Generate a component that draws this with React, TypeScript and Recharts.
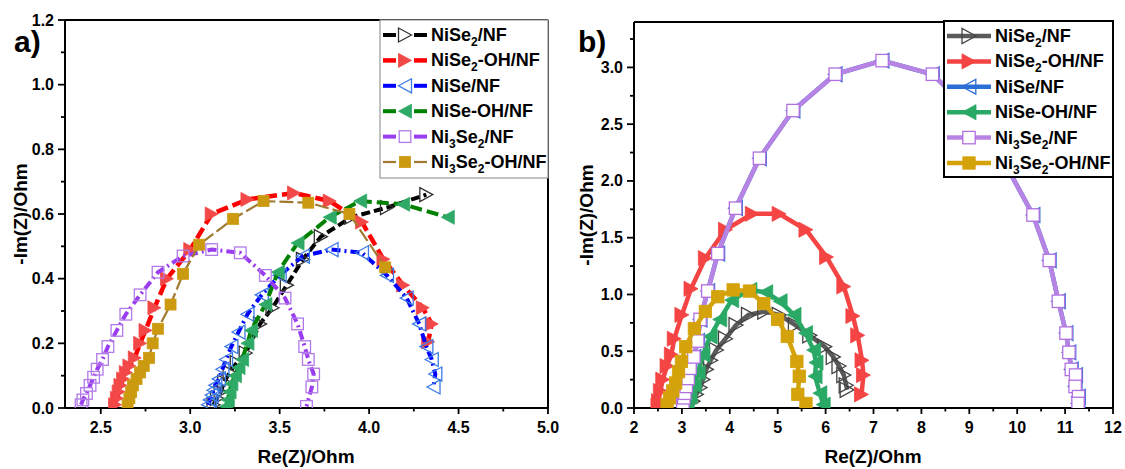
import { ScatterChart, Scatter, XAxis, YAxis, ReferenceLine } from "recharts";

type Pt = [number, number];

// ---- panel a) : Re(Z), -Im(Z) in Ohm ----
const aNiSe2: Pt[] = [
  [3.13, 0.01], [3.15, 0.03], [3.17, 0.05], [3.19, 0.08], [3.22, 0.11], [3.26, 0.14],
  [3.31, 0.17], [3.39, 0.26], [3.46, 0.31], [3.54, 0.38], [3.63, 0.46], [3.73, 0.53],
  [3.9, 0.59], [4.1, 0.62], [4.32, 0.66],
];
const aNiSe2OH: Pt[] = [
  [2.58, 0.01], [2.59, 0.03], [2.6, 0.05], [2.61, 0.07], [2.625, 0.09], [2.64, 0.11],
  [2.66, 0.13], [2.69, 0.155], [2.72, 0.2], [2.75, 0.24], [2.8, 0.31], [2.87, 0.4],
  [3.0, 0.49], [3.12, 0.6], [3.32, 0.645], [3.58, 0.665], [3.78, 0.64], [3.96, 0.575],
  [4.08, 0.46], [4.19, 0.38], [4.3, 0.31], [4.35, 0.26], [4.33, 0.205],
];
const aNiSe: Pt[] = [
  [3.1, 0.01], [3.11, 0.025], [3.12, 0.04], [3.13, 0.055], [3.14, 0.07], [3.16, 0.09],
  [3.18, 0.12], [3.2, 0.15], [3.23, 0.19], [3.27, 0.235], [3.32, 0.29], [3.4, 0.35],
  [3.5, 0.41], [3.63, 0.47], [3.79, 0.49], [3.96, 0.48], [4.1, 0.41], [4.21, 0.34],
  [4.28, 0.26], [4.32, 0.19], [4.35, 0.15], [4.37, 0.105], [4.36, 0.065],
];
const aNiSeOH: Pt[] = [
  [3.2, 0.005], [3.21, 0.025], [3.22, 0.05], [3.23, 0.075], [3.25, 0.1], [3.27, 0.125],
  [3.29, 0.15], [3.32, 0.2], [3.34, 0.24], [3.42, 0.32], [3.49, 0.42], [3.6, 0.51],
  [3.78, 0.59], [3.95, 0.64], [4.19, 0.63], [4.44, 0.59],
];
const aNi3Se2: Pt[] = [
  [2.39, 0.01], [2.4, 0.025], [2.42, 0.045], [2.44, 0.07], [2.46, 0.095], [2.48, 0.12],
  [2.51, 0.15], [2.54, 0.19], [2.59, 0.24], [2.64, 0.29], [2.72, 0.35], [2.82, 0.42],
  [2.96, 0.47], [3.12, 0.49], [3.28, 0.48], [3.42, 0.41], [3.53, 0.34], [3.6, 0.26],
  [3.64, 0.19], [3.66, 0.15], [3.69, 0.105], [3.68, 0.065], [3.65, 0.005],
];
const aNi3Se2OH: Pt[] = [
  [2.65, 0.01], [2.66, 0.03], [2.67, 0.05], [2.68, 0.07], [2.7, 0.09], [2.72, 0.11],
  [2.74, 0.13], [2.77, 0.155], [2.79, 0.2], [2.82, 0.245], [2.89, 0.32], [2.96, 0.415],
  [3.05, 0.505], [3.24, 0.585], [3.41, 0.64], [3.66, 0.635], [3.89, 0.6], [4.09, 0.435],
];

// ---- panel b) ----
const bNiSe2: Pt[] = [
  [3.23, 0.06], [3.3, 0.12], [3.38, 0.18], [3.44, 0.25], [3.51, 0.34], [3.6, 0.42],
  [3.72, 0.51], [3.91, 0.61], [4.13, 0.73], [4.39, 0.82], [4.73, 0.85], [5.03, 0.82],
  [5.37, 0.73], [5.67, 0.64], [5.98, 0.54], [6.16, 0.45], [6.28, 0.37], [6.38, 0.29],
  [6.43, 0.2], [6.45, 0.16],
];
const bNiSe2OH: Pt[] = [
  [2.5, 0.02], [2.51, 0.06], [2.55, 0.15], [2.6, 0.25], [2.69, 0.37], [2.78, 0.47],
  [2.84, 0.61], [3.0, 0.82], [3.19, 1.05], [3.49, 1.32], [3.91, 1.57], [4.47, 1.71],
  [5.03, 1.71], [5.59, 1.57], [6.02, 1.33], [6.38, 1.07], [6.57, 0.81], [6.67, 0.64],
  [6.76, 0.42], [6.79, 0.29], [6.75, 0.12],
];
const bNiSeOH: Pt[] = [
  [3.11, 0.03], [3.17, 0.1], [3.26, 0.2], [3.34, 0.31], [3.44, 0.47], [3.59, 0.63],
  [3.79, 0.78], [4.04, 0.95], [4.42, 1.04], [4.75, 1.02], [5.05, 0.94], [5.34, 0.82],
  [5.58, 0.66], [5.75, 0.51], [5.8, 0.4], [5.78, 0.28], [5.88, 0.13], [5.95, 0.03],
];
const bNi3Se2: Pt[] = [
  [3.02, 0.04], [3.04, 0.09], [3.06, 0.13], [3.09, 0.19], [3.13, 0.26], [3.17, 0.35],
  [3.25, 0.45], [3.33, 0.59], [3.38, 0.78], [3.54, 1.03], [3.75, 1.36], [4.12, 1.76],
  [4.62, 2.2], [5.32, 2.62], [6.2, 2.94], [7.18, 3.06], [8.23, 2.94], [9.3, 2.5],
  [10.33, 1.7], [10.67, 1.3], [10.86, 0.94], [11.02, 0.66], [11.08, 0.49], [11.13, 0.34],
  [11.22, 0.29], [11.21, 0.19], [11.28, 0.1], [11.27, 0.04],
];
// NiSe/NF in b) lies under the Ni3Se2/NF points (only slivers visible)
const bNiSe: Pt[] = bNi3Se2;
const bNi3Se2OH: Pt[] = [
  [2.69, 0.03], [2.74, 0.09], [2.81, 0.15], [2.87, 0.22], [2.93, 0.32], [2.99, 0.41],
  [3.08, 0.54], [3.26, 0.7], [3.49, 0.85], [3.75, 0.98], [4.07, 1.04], [4.41, 1.03],
  [4.71, 0.92], [5.0, 0.78], [5.2, 0.63], [5.4, 0.41], [5.45, 0.28], [5.42, 0.12],
  [5.59, 0.04],
];

const names = ["NiSe2/NF", "NiSe2-OH/NF", "NiSe/NF", "NiSe-OH/NF", "Ni3Se2/NF", "Ni3Se2-OH/NF"];

const aXMajor = [2.5, 3, 3.5, 4, 4.5, 5];
const aXMinor = [2.75, 3.25, 3.75, 4.25, 4.75];
const aYMajor = [0, 0.2, 0.4, 0.6, 0.8, 1.0, 1.2];
const aYMinor = [0.1, 0.3, 0.5, 0.7, 0.9, 1.1];
const bXMajor = [2, 3, 4, 5, 6, 7, 8, 9, 10, 11, 12];
const bXMinor = [2.5, 3.5, 4.5, 5.5, 6.5, 7.5, 8.5, 9.5, 10.5, 11.5];
const bYMajor = [0, 0.5, 1.0, 1.5, 2.0, 2.5, 3.0];
const bYMinor = [0.25, 0.75, 1.25, 1.75, 2.25, 2.75, 3.25];

const FONT = "'Liberation Sans', Arial, sans-serif";

type Kind = "right" | "left" | "square";
interface Sty {
  kind: Kind;
  line: string;
  fill: string;
  stroke: string;
  w: number;
  dash?: string;
  size: number;
}

const aStyles: Sty[] = [
  { kind: "right", line: "#000000", fill: "none", stroke: "#333333", w: 4, dash: "9 4", size: 6.5 },
  { kind: "right", line: "#ff0000", fill: "#f24848", stroke: "#f24848", w: 4.5, dash: "12 5", size: 6.5 },
  { kind: "left", line: "#0000ff", fill: "none", stroke: "#3d7be6", w: 4, dash: "9 4 2 4", size: 6.5 },
  { kind: "left", line: "#008000", fill: "#2eaa66", stroke: "#2eaa66", w: 4, dash: "12 5", size: 6.5 },
  { kind: "square", line: "#9a3cf0", fill: "none", stroke: "#b27ae8", w: 4, dash: "9 4 2 4", size: 5.8 },
  { kind: "square", line: "#a07a30", fill: "#cc9a10", stroke: "#cc9a10", w: 2.2, dash: "14 4", size: 5.5 },
];

const bStyles: Sty[] = [
  { kind: "right", line: "#5a5a5a", fill: "none", stroke: "#444444", w: 4.5, size: 7 },
  { kind: "right", line: "#f44444", fill: "#f44444", stroke: "#f44444", w: 4.5, size: 7 },
  { kind: "left", line: "#2b6fd6", fill: "none", stroke: "#2b6fd6", w: 4.5, size: 6.8 },
  { kind: "left", line: "#2aa866", fill: "#2aa866", stroke: "#2aa866", w: 4.5, size: 7 },
  { kind: "square", line: "#b884e4", fill: "#ffffff", stroke: "#b070e0", w: 4.5, size: 6.2 },
  { kind: "square", line: "#d4a20a", fill: "#d4a20a", stroke: "#d4a20a", w: 4.5, size: 6.2 },
];

const aSeries = [aNiSe2, aNiSe2OH, aNiSe, aNiSeOH, aNi3Se2, aNi3Se2OH];
const bSeries = [bNiSe2, bNiSe2OH, bNiSe, bNiSeOH, bNi3Se2, bNi3Se2OH];

const Mark = ({ cx, cy, s }: { cx?: number; cy?: number; s: Sty }) => {
  if (cx == null || cy == null) return null;
  const a = s.size;
  const sw = s.fill === "none" || s.fill === "#ffffff" ? 1.3 : 0.8;
  if (s.kind === "square") {
    return <rect x={cx - a} y={cy - a} width={2 * a} height={2 * a} fill={s.fill} stroke={s.stroke} strokeWidth={sw} />;
  }
  const d = s.kind === "right" ? 1 : -1;
  const pts = `${cx + d * a},${cy} ${cx - d * a},${cy - a * 1.08} ${cx - d * a},${cy + a * 1.08}`;
  return <polygon points={pts} fill={s.fill} stroke={s.stroke} strokeWidth={sw} strokeLinejoin="miter" />;
};

const tickText = { fontFamily: FONT, fontWeight: 700, fontSize: 16, fill: "#000" };

const XTick = (p: any, majors: number[], fmt: (v: number) => string) => {
  const v = p.payload.value;
  const major = majors.includes(v);
  return (
    <g key={`x${v}`}>
      <line x1={p.x} x2={p.x} y1={p.y} y2={p.y + (major ? 6 : 3.5)} stroke="#000" strokeWidth={1.8} />
      {major && (
        <text x={p.x} y={p.y + 25} textAnchor="middle" {...tickText}>
          {fmt(v)}
        </text>
      )}
    </g>
  );
};

const YTick = (p: any, majors: number[]) => {
  const v = p.payload.value;
  const major = majors.includes(v);
  return (
    <g key={`y${v}`}>
      <line x1={p.x - (major ? 7 : 4)} x2={p.x} y1={p.y} y2={p.y} stroke="#000" strokeWidth={1.8} />
      {major && (
        <text x={p.x - 11} y={p.y + 5.5} textAnchor="end" {...tickText}>
          {v.toFixed(1)}
        </text>
      )}
    </g>
  );
};

interface PanelProps {
  width: number;
  yAxisW: number;
  top: number;
  domX: [number, number];
  domY: [number, number];
  xMajor: number[];
  xMinor: number[];
  yMajor: number[];
  yMinor: number[];
  xFmt: (v: number) => string;
  series: Pt[][];
  styles: Sty[];
}

const Panel = (pp: PanelProps) => (
  <ScatterChart width={pp.width} height={469} margin={{ top: pp.top, right: 12, bottom: 11, left: 0 }}>
    <XAxis
      type="number"
      dataKey="x"
      domain={pp.domX}
      ticks={[...pp.xMajor, ...pp.xMinor]}
      interval={0}
      tickSize={0}
      tickMargin={0}
      tickLine={false}
      tick={(p: any) => XTick(p, pp.xMajor, pp.xFmt)}
      axisLine={{ stroke: "#000", strokeWidth: 2 }}
      height={50}
      allowDataOverflow
    />
    <YAxis
      type="number"
      dataKey="y"
      domain={pp.domY}
      ticks={[...pp.yMajor, ...pp.yMinor]}
      interval={0}
      tickSize={0}
      tickMargin={0}
      tickLine={false}
      tick={(p: any) => YTick(p, pp.yMajor)}
      axisLine={{ stroke: "#000", strokeWidth: 2 }}
      width={pp.yAxisW}
      allowDataOverflow
    />
    <ReferenceLine y={pp.domY[1]} stroke="#000" strokeWidth={2} />
    <ReferenceLine x={pp.domX[1]} stroke="#000" strokeWidth={2} />
    {pp.series.map((pts, i) => {
      const s = pp.styles[i];
      return (
        <Scatter
          key={names[i]}
          name={names[i]}
          data={pts.map(([x, y]) => ({ x, y }))}
          line={{ stroke: s.line, strokeWidth: s.w, strokeDasharray: s.dash }}
          shape={(p: any) => <Mark cx={p.cx} cy={p.cy} s={s} />}
          isAnimationActive={false}
        />
      );
    })}
  </ScatterChart>
);

const NameText = ({ x, y, name }: { x: number; y: number; name: string }) => {
  const parts = name.split(/(\d)/).filter((t) => t !== "");
  let sub = false;
  return (
    <text x={x} y={y} fontFamily={FONT} fontWeight={700} fontSize={18} fill="#000">
      {parts.map((t, i) => {
        const isSub = /\d/.test(t);
        const dy = isSub ? (sub ? 0 : 5) : sub ? -5 : 0;
        sub = isSub;
        return (
          <tspan key={i} dy={dy} fontSize={isSub ? 12 : 18}>
            {t}
          </tspan>
        );
      })}
    </text>
  );
};

const LegendBox = ({ x, y, w, h, border, bw, styles, gap }: any) => (
  <g>
    <rect x={x} y={y} width={w} height={h} fill="#fff" stroke={border} strokeWidth={bw} />
    {styles.map((s: Sty, i: number) => {
      const cy = y + 15 + i * 25.4;
      const mx = x + 25;
      return (
        <g key={i}>
          {gap ? (
            <>
              <line x1={x + 3} x2={mx - 9} y1={cy} y2={cy} stroke={s.line} strokeWidth={s.w} />
              <line x1={mx + 9} x2={x + 47} y1={cy} y2={cy} stroke={s.line} strokeWidth={s.w} />
            </>
          ) : (
            <line x1={x + 3} x2={x + 47} y1={cy} y2={cy} stroke={s.line} strokeWidth={s.w} />
          )}
          <Mark cx={mx} cy={cy} s={s} />
          <NameText x={x + 51} y={cy + 6} name={names[i]} />
        </g>
      );
    })}
  </g>
);

const title = { fontFamily: FONT, fontWeight: 700, fontSize: 19, fill: "#000" };

export default function App() {
  return (
    <div style={{ position: "absolute", left: 0, top: 0, width: 1125, height: 469, background: "#fff" }}>
      <div style={{ position: "absolute", left: 0, top: 0 }}>
        <Panel
          width={560}
          yAxisW={65}
          top={20}
          domX={[2.3, 5]}
          domY={[0, 1.2]}
          xMajor={aXMajor}
          xMinor={aXMinor}
          yMajor={aYMajor}
          yMinor={aYMinor}
          xFmt={(v) => v.toFixed(1)}
          series={aSeries}
          styles={aStyles}
        />
      </div>
      <div style={{ position: "absolute", left: 560, top: 0 }}>
        <Panel
          width={565}
          yAxisW={74}
          top={22}
          domX={[2, 12]}
          domY={[0, 3.4]}
          xMajor={bXMajor}
          xMinor={bXMinor}
          yMajor={bYMajor}
          yMinor={bYMinor}
          xFmt={(v) => String(v)}
          series={bSeries}
          styles={bStyles}
        />
      </div>
      <svg width={1125} height={469} style={{ position: "absolute", left: 0, top: 0, pointerEvents: "none" }}>
        <text x={14} y={52} fontFamily={FONT} fontWeight={700} fontSize={30}>a)</text>
        <text x={578} y={52} fontFamily={FONT} fontWeight={700} fontSize={30}>b)</text>
        <text x={306} y={463} textAnchor="middle" {...title}>Re(Z)/Ohm</text>
        <text x={873} y={463} textAnchor="middle" {...title}>Re(Z)/Ohm</text>
        <text x={27} y={214} textAnchor="middle" transform="rotate(-90 27 214)" {...title}>-Im(Z)/Ohm</text>
        <text x={593} y={215} textAnchor="middle" transform="rotate(-90 593 215)" {...title}>-Im(Z)/Ohm</text>
        <LegendBox x={380} y={20} w={168} h={158} border="#999" bw={1.2} styles={aStyles} gap />
        <LegendBox x={944} y={21} w={169} h={156} border="#000" bw={2} styles={bStyles} />
      </svg>
    </div>
  );
}
